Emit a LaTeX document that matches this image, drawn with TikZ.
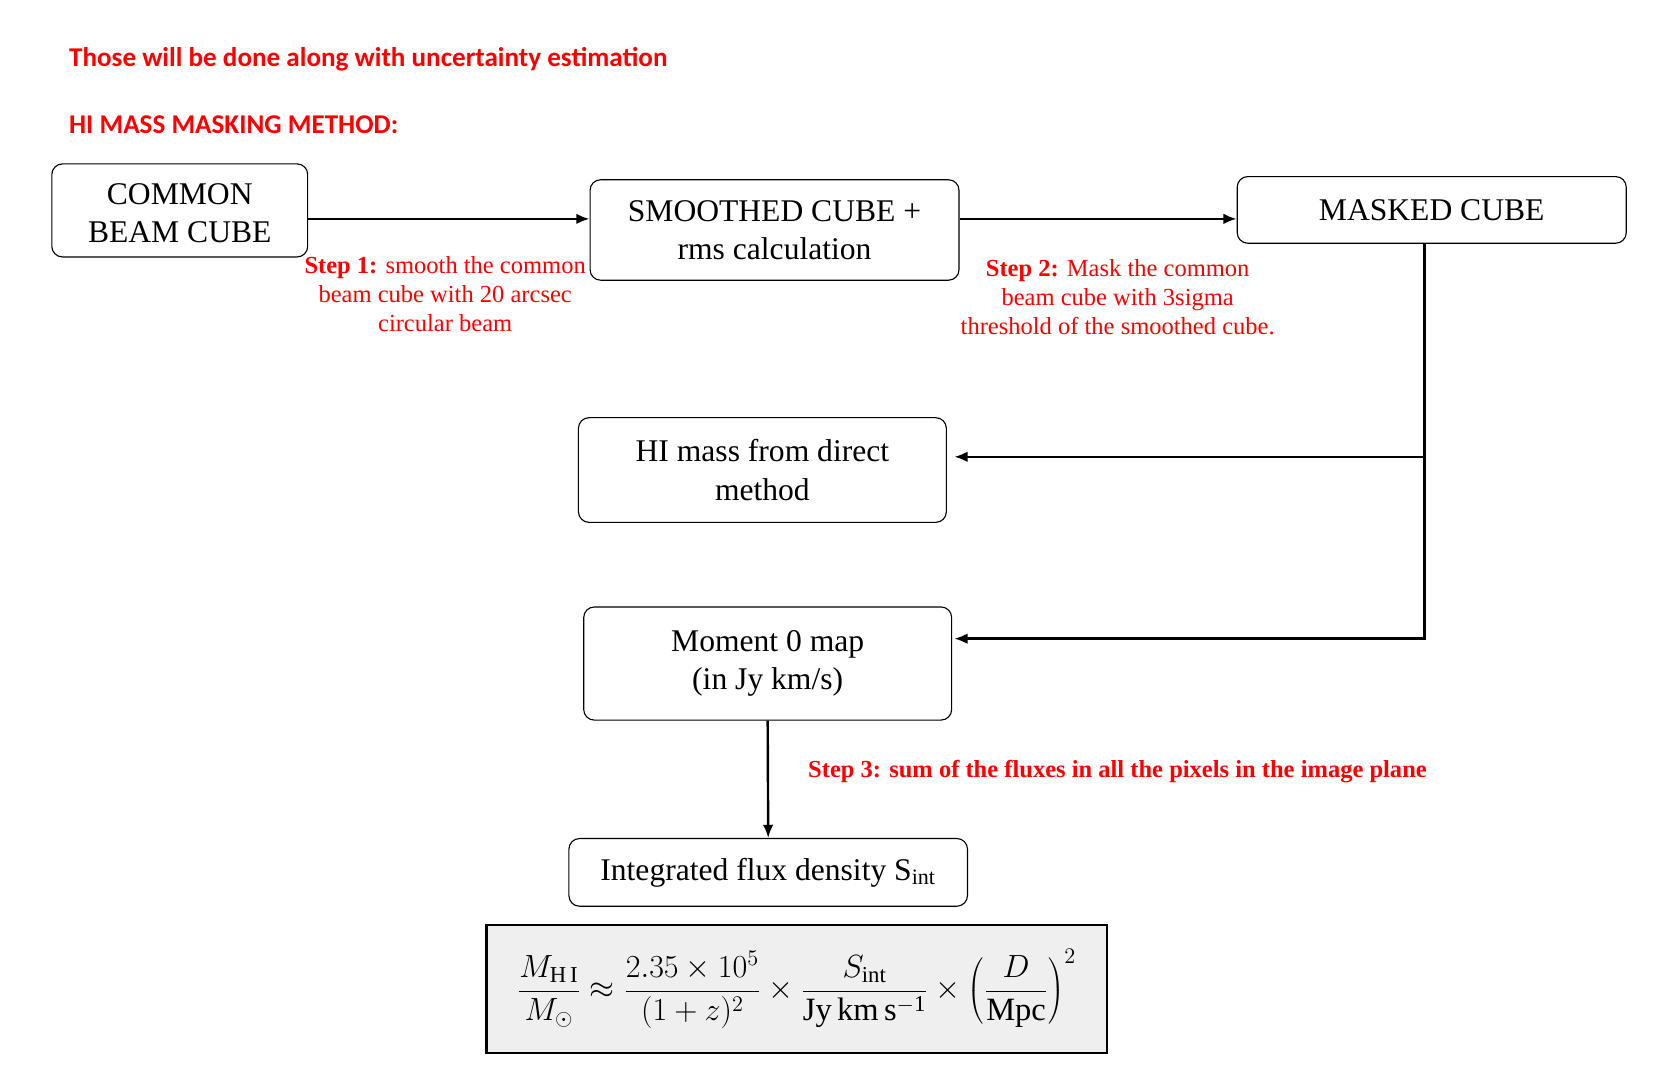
\documentclass[tikz,border=0pt]{standalone}
\usepackage{fontspec}
\setmainfont{Liberation Serif}
\newfontfamily\titlefont{Carlito}
\usepackage{tikz}
\usetikzlibrary{arrows.meta}
\usepackage{xcolor}
\definecolor{notered}{RGB}{255,0,0}
\definecolor{formgray}{RGB}{239,239,239}

\begin{document}
\begin{tikzpicture}[>={Latex[length=0.25cm,width=0.2cm]}, x=0.02cm, y=-0.02cm,
  box/.style={rectangle, rounded corners=0.2cm, draw, line width=0.6pt, align=center, inner sep=0pt,
    font=\fontsize{17}{20.5}\selectfont, fill=white},
  note/.style={align=center, text=notered, inner sep=0pt, font=\fontsize{13.2}{15.6}\selectfont},
  headline/.style={anchor=west, text=notered, inner sep=0pt, font=\titlefont\bfseries\fontsize{14.6}{17}\selectfont},
  formbox/.style={rectangle, draw, line width=1.2pt, fill=formgray, inner sep=0pt},
  edge/.style={->, line width=1.3pt, draw=black}
]
\useasboundingbox (0,0) rectangle (1568,1025);
\node[headline] (t1) at (65,56) {Those will be done along with uncertainty estimation};
\node[headline] (t2) at (65,118) {HI MASS MASKING METHOD:};
\node[box, minimum width=4.84cm, minimum height=1.76cm] (cbc) at (170,199) {\raisebox{-0.1cm}[\height][\depth]{\begin{tabular}{@{}c@{}}COMMON\\BEAM CUBE\end{tabular}}};
\node[box, minimum width=6.98cm, minimum height=1.90cm] (smc) at (732.5,217.5) {SMOOTHED CUBE +\\rms calculation};
\node[box, minimum width=7.36cm, minimum height=1.26cm] (msk) at (1354,198.5) {MASKED CUBE};
\node[box, minimum width=6.96cm, minimum height=1.98cm] (him) at (721,444.5) {HI mass from direct\\method};
\node[box, minimum width=6.96cm, minimum height=2.14cm] (mom) at (726,627.5) {Moment 0 map\\(in Jy km/s)};
\node[box, minimum width=7.54cm, minimum height=1.28cm] (ifd) at (726.5,825) {Integrated flux density S\textsubscript{int}};
\node[formbox, minimum width=11.74cm, minimum height=2.42cm] (frm) at (753.5,935.5) {\fontsize{17.5}{20}\selectfont
  $\displaystyle \frac{M_{\mathrm{H\,I}}}{M_\odot}\approx\frac{2.35\times10^5}{(1+z)^2}\times\frac{S_{\mathrm{int}}}{\mathrm{Jy\,km\,s^{-1}}}\times\left(\frac{D}{\mathrm{Mpc}}\right)^{2}$};
\node[note] (s1) at (421,278) {\textbf{Step 1:} smooth the common\\beam cube with 20 arcsec\\circular beam};
\node[note] (s2) at (1057,281) {\textbf{Step 2:} Mask the common\\beam cube with 3sigma\\threshold of the smoothed cube.};
\node[note, anchor=west] (s3) at (764,730) {\textbf{Step 3: sum of the fluxes in all the pixels in the image plane}};
\coordinate (r1) at (0,207);
\coordinate (b1) at (1347,432);
\coordinate (b2) at (1347,604);
\draw[edge] (cbc.east |- r1) -- (smc.west |- r1);
\draw[edge] (smc.east |- r1) -- (msk.west |- r1);
\draw[edge] (msk.south -| b1) |- ([xshift=0.04cm]mom.east |- b2);
\draw[edge] (b1) -- ([xshift=0.14cm]him.east |- b1);
\draw[edge] (mom.south) -- (ifd.north);
\end{tikzpicture}
\end{document}
